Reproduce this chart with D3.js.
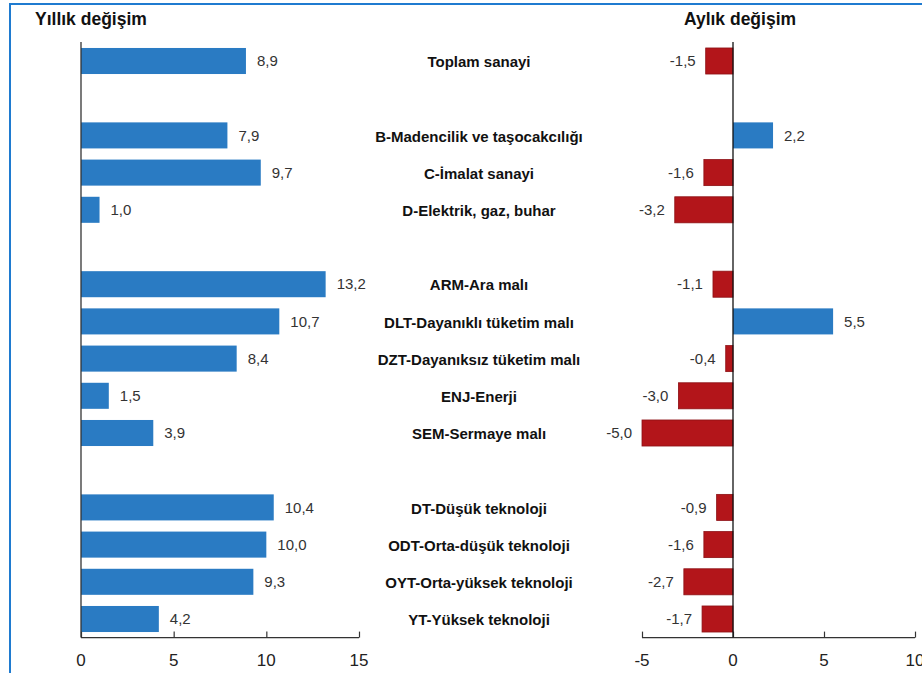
<!DOCTYPE html>
<html>
<head>
<meta charset="utf-8">
<script src="https://cdn.jsdelivr.net/npm/d3@7/dist/d3.min.js"></script>
<style>
  html, body { margin: 0; padding: 0; background: #fff; }
  svg { display: block; }
  text { font-family: "Liberation Sans", Arial, sans-serif; }
</style>
</head>
<body>
<svg id="chart" width="922" height="673"></svg>
<script>
// Sector labels; null marks an empty spacer row between groups
const categories = [
  "Toplam sanayi", null,
  "B-Madencilik ve taşocakcılığı", "C-İmalat sanayi", "D-Elektrik, gaz, buhar", null,
  "ARM-Ara malı", "DLT-Dayanıklı tüketim malı", "DZT-Dayanıksız tüketim malı", "ENJ-Enerji", "SEM-Sermaye malı", null,
  "DT-Düşük teknoloji", "ODT-Orta-düşük teknoloji", "OYT-Orta-yüksek teknoloji", "YT-Yüksek teknoloji"
];
// Annual change (%), one per labelled row
const annualValues = [8.9, 7.9, 9.7, 1.0, 13.2, 10.7, 8.4, 1.5, 3.9, 10.4, 10.0, 9.3, 4.2];
// Monthly change (%), one per labelled row
const monthlyValues = [-1.5, 2.2, -1.6, -3.2, -1.1, 5.5, -0.4, -3.0, -5.0, -0.9, -1.6, -2.7, -1.7];
const annualTicks = [0, 5, 10, 15];
const monthlyTicks = [-5, 0, 5, 10];
const titles = ["Yıllık değişim", "Aylık değişim"];

const fmt = v => d3.format(".1f")(v).replace(".", ",").replace("−", "-");

const rows = [];
let k = 0;
categories.forEach((c, i) => {
  if (c !== null) { rows.push({ slot: i, name: c, annual: annualValues[k], monthly: monthlyValues[k] }); k++; }
});

const svg = d3.select("#chart");
const BLUE = "#2a7bc3", RED = "#b3151a", AXIS = "#333";

// outer frame
svg.append("rect").attr("x", 10).attr("y", 4).attr("width", 1000).attr("height", 1000)
  .attr("fill", "none").attr("stroke", "#1f7bd0").attr("stroke-width", 2);

const y = d3.scaleBand().domain(d3.range(categories.length)).range([42.4, 637.6])
  .paddingInner(0.3).paddingOuter(0.15);
const axisY = 637.6;

const xL = d3.scaleLinear().domain([0, 15]).range([81, 359]);
const xR = d3.scaleLinear().domain([-5, 10]).range([642, 915]);

// titles
svg.append("text").attr("x", 35).attr("y", 25).attr("font-size", 17.5).attr("font-weight", "bold")
  .attr("fill", "#111").text(titles[0]);
svg.append("text").attr("x", 740).attr("y", 25).attr("text-anchor", "middle").attr("font-size", 17.5)
  .attr("font-weight", "bold").attr("fill", "#111").text(titles[1]);

// left panel bars
svg.append("g").selectAll("rect").data(rows).join("rect")
  .attr("x", xL(0)).attr("y", d => y(d.slot))
  .attr("width", d => xL(d.annual) - xL(0)).attr("height", y.bandwidth())
  .attr("fill", BLUE);
svg.append("g").selectAll("text").data(rows).join("text")
  .attr("x", d => xL(d.annual) + 11).attr("y", d => y(d.slot) + y.bandwidth() / 2)
  .attr("dy", "0.35em").attr("font-size", 15).attr("fill", "#333")
  .text(d => fmt(d.annual));

// right panel bars
svg.append("g").selectAll("rect").data(rows).join("rect")
  .attr("x", d => xR(Math.min(0, d.monthly))).attr("y", d => y(d.slot))
  .attr("width", d => Math.abs(xR(d.monthly) - xR(0))).attr("height", y.bandwidth())
  .attr("fill", d => d.monthly < 0 ? RED : BLUE)
  .attr("stroke", d => d.monthly < 0 ? "#8c1014" : "none").attr("stroke-width", 0.8);
svg.append("g").selectAll("text").data(rows).join("text")
  .attr("x", d => d.monthly < 0 ? xR(d.monthly) - 10 : xR(d.monthly) + 11)
  .attr("y", d => y(d.slot) + y.bandwidth() / 2)
  .attr("dy", "0.35em").attr("text-anchor", d => d.monthly < 0 ? "end" : "start")
  .attr("font-size", 15).attr("fill", "#333")
  .text(d => fmt(d.monthly));

// category labels
svg.append("g").selectAll("text").data(rows).join("text")
  .attr("x", 479).attr("y", d => y(d.slot) + y.bandwidth() / 2 + 1)
  .attr("dy", "0.35em").attr("text-anchor", "middle").attr("font-size", 15)
  .attr("font-weight", "bold").attr("fill", "#111")
  .text(d => d.name);

// axes
function drawAxis(scale, ticks) {
  const g = svg.append("g").attr("transform", `translate(0,${axisY})`)
    .call(d3.axisTop(scale).tickValues(ticks).tickSize(6).tickFormat(""));
  g.select(".domain").attr("stroke", AXIS).attr("stroke-width", 1.3).attr("d",
    `M${scale.range()[0]},0H${scale.range()[1]}`);
  g.selectAll(".tick line").attr("stroke", AXIS).attr("stroke-width", 1.2);
  svg.append("g").selectAll("text").data(ticks).join("text")
    .attr("x", d => scale(d)).attr("y", 666).attr("text-anchor", "middle")
    .attr("font-size", 17).attr("fill", "#222").text(d => d);
}
drawAxis(xL, annualTicks);
drawAxis(xR, monthlyTicks);

// zero lines
svg.append("line").attr("x1", xL(0)).attr("x2", xL(0)).attr("y1", 42).attr("y2", axisY)
  .attr("stroke", AXIS).attr("stroke-width", 1.3);
svg.append("line").attr("x1", xR(0)).attr("x2", xR(0)).attr("y1", 42).attr("y2", axisY)
  .attr("stroke", "#111").attr("stroke-width", 1.3);
</script>
</body>
</html>
